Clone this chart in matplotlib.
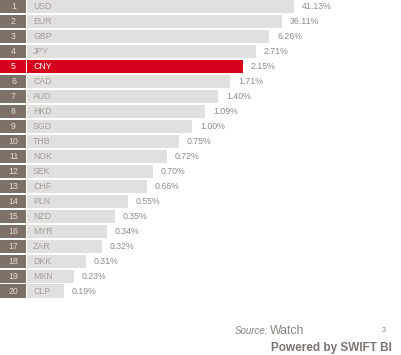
import matplotlib
matplotlib.use("Agg")
import matplotlib.pyplot as plt

ranks = list(range(1, 21))
currencies = ["USD", "EUR", "GBP", "JPY", "CNY", "CAD", "AUD", "HKD", "SGD", "THB",
              "NOK", "SEK", "CHF", "PLN", "NZD", "MYR", "ZAR", "DKK", "MXN", "CLP"]
shares = [41.13, 36.11, 6.26, 2.71, 2.15, 1.71, 1.40, 1.09, 1.00, 0.75,
          0.72, 0.70, 0.66, 0.55, 0.35, 0.34, 0.32, 0.31, 0.23, 0.19]
# visual bar lengths as drawn in the chart (not proportional to share)
bar_length = [294, 282, 269, 256, 243, 230, 218, 205, 192, 179,
              167, 153, 147, 128, 115, 107, 102, 86, 74, 64]
highlight = "CNY"

W, H = 401, 355
fig = plt.figure(figsize=(W / 100, H / 100), dpi=100)
fig.patch.set_facecolor("white")
plt.rcParams["font.family"] = ["Liberation Sans", "DejaVu Sans"]

ax = fig.add_axes([0, 56.5 / H, 1, 299.5 / H])
ax.set_xlim(0, W)
ax.set_ylim(19.5, -0.5)
ax.axis("off")

box_w = 26
gap = 1
bar_h = 0.87
box_col = "#7d7069"
bar_col = "#e1e0de"
red = "#d6001c"
txt_col = "#8f8a86"
fs = 6.3

for i, (r, c, s, L) in enumerate(zip(ranks, currencies, shares, bar_length)):
    hl = c == highlight
    ax.barh(i, box_w, left=0, height=bar_h, color=red if hl else box_col, linewidth=0)
    ax.barh(i, L - box_w - gap, left=box_w + gap, height=bar_h,
            color=red if hl else bar_col, linewidth=0)
    ax.text(13.5, i, str(r), ha="center", va="center", fontsize=fs,
            color="white" if hl else "#e6ddd6")
    ax.text(33, i, c, ha="left", va="center", fontsize=fs,
            color="white" if hl else "#a29e9a")
    ax.text(L + 8, i, f"{s:.2f}%", ha="left", va="center", fontsize=fs, color=txt_col)

fig.text(235 / W, 1 - 334 / H, "Source:", style="italic", fontsize=7,
         color="#8a8580", ha="left", va="baseline")
fig.text(270 / W, 1 - 334 / H, "Watch", fontsize=8.8,
         color="#8a8580", ha="left", va="baseline")
fig.text(384 / W, 1 - 332 / H, "3", fontsize=5, color="#8a8580",
         ha="center", va="baseline")
fig.text(392 / W, 1 - 351 / H, "Powered by SWIFT BI", fontsize=8.5, fontweight="bold",
         color="#7a7570", ha="right", va="baseline")

fig.savefig("out.png", dpi=100, facecolor="white")
